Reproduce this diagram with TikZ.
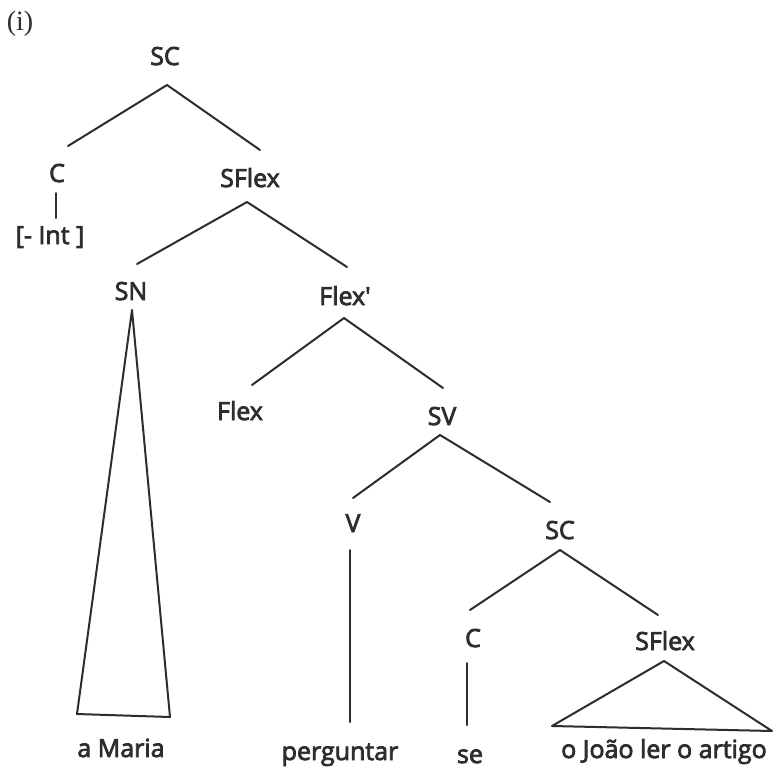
\documentclass[tikz,border=0pt]{standalone}
\usepackage{fontspec}
\setmainfont{Open Sans}
\newfontfamily\lblfont[FakeBold=3]{Open Sans}
\newfontfamily\serifnum{Liberation Serif}
\definecolor{ink}{RGB}{45,45,45}
\begin{document}
\begin{tikzpicture}[x=1pt,y=-1pt,
  lbl/.style={anchor=base,inner sep=0pt,text=ink,font=\lblfont\fontsize{25}{25}\selectfont},
  edge/.style={draw=ink,line width=2pt,line cap=round,line join=round}]
\useasboundingbox[fill=white] (0,0) rectangle (776,777);
% labels
\node[anchor=base,inner sep=0pt,text=ink,font=\serifnum\fontsize{28}{28}\selectfont] (num) at (20,30) {(i)};
\node[lbl] (SCa) at (165,65) {SC};
\node[lbl] (Ca) at (57,182) {C};
\node[lbl] (SFa) at (250,187) {SFlex};
\node[lbl] (Int) at (50,244) {[- Int ]};
\node[lbl] (SN) at (131,300) {SN};
\node[lbl] (Flexp) at (345,305) {Flex\textquotesingle};
\node[lbl] (Flex) at (240,420) {Flex};
\node[lbl] (SV) at (442,425) {SV};
\node[lbl] (V) at (353,532) {V};
\node[lbl] (SCb) at (560,539) {SC};
\node[lbl] (Cb) at (473,647) {C};
\node[lbl] (SFb) at (665,650) {SFlex};
\node[lbl] (Maria) at (121,757) {a Maria};
\node[lbl] (perg) at (340,760) {perguntar};
\node[lbl] (se) at (470,763) {se};
\node[lbl] (Joao) at (664,758) {o João ler o artigo};
% branch points
\coordinate (SCa-t) at (167,85);
\coordinate (Ca-t) at (68,146);
\coordinate (SFa-t) at (260,150);
\coordinate (Ca-b) at (56,193);
\coordinate (Int-t) at (56,218);
\coordinate (SFa-b) at (247,202);
\coordinate (SN-t) at (137,264);
\coordinate (Flexp-t) at (347,267);
\coordinate (SN-b) at (132,310);
\coordinate (Maria-l) at (77,714);
\coordinate (Maria-r) at (170,717);
\coordinate (Flexp-b) at (344,318);
\coordinate (Flex-t) at (252,385);
\coordinate (SV-t) at (443,388);
\coordinate (SV-b) at (440,435);
\coordinate (V-t) at (353,498);
\coordinate (SCb-t) at (550,502);
\coordinate (V-b) at (350,550);
\coordinate (perg-t) at (350,722);
\coordinate (SCb-b) at (560,550);
\coordinate (Cb-t) at (470,610);
\coordinate (SFb-t) at (658,615);
\coordinate (Cb-b) at (467,663);
\coordinate (se-t) at (467,725);
\coordinate (SFb-b) at (664,661);
\coordinate (Joao-l) at (552,726);
\coordinate (Joao-r) at (772,731);
% edges
\draw[edge] (Ca-t) -- (SCa-t) -- (SFa-t);
\draw[edge] (Ca-b) -- (Int-t);
\draw[edge] (SN-t) -- (SFa-b) -- (Flexp-t);
\draw[edge] (SN-b) -- (Maria-l) -- (Maria-r) -- cycle;
\draw[edge] (Flex-t) -- (Flexp-b) -- (SV-t);
\draw[edge] (V-t) -- (SV-b) -- (SCb-t);
\draw[edge] (V-b) -- (perg-t);
\draw[edge] (Cb-t) -- (SCb-b) -- (SFb-t);
\draw[edge] (Cb-b) -- (se-t);
\draw[edge] (SFb-b) -- (Joao-l) -- (Joao-r) -- cycle;
\end{tikzpicture}
\end{document}
